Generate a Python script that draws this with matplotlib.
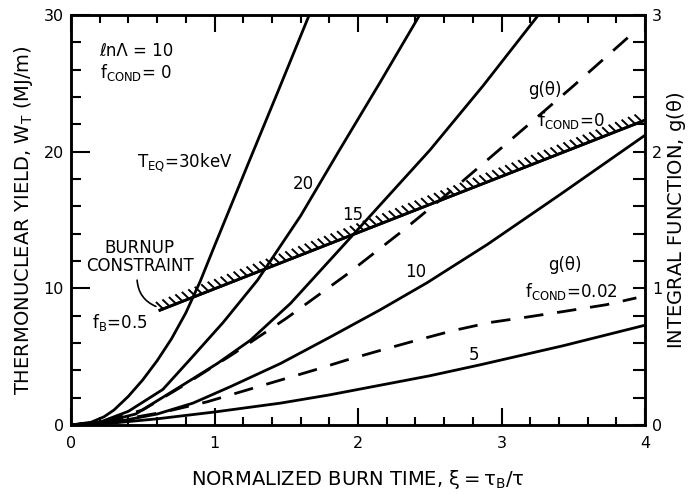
import matplotlib
matplotlib.use("Agg")
import matplotlib.pyplot as plt
import matplotlib.patheffects as pe
from matplotlib.ticker import MultipleLocator

plt.rcParams['font.family'] = ['DejaVu Sans']
plt.rcParams['mathtext.default'] = 'regular'
plt.rcParams['lines.scale_dashes'] = False

# thermonuclear yield W_T (MJ/m) vs normalized burn time xi, for each T_EQ
xi_30 = [0, 0.14, 0.23, 0.3, 0.4, 0.5, 0.6, 0.7, 0.8, 0.9, 1.0, 1.23, 1.45, 1.66]
w_30 = [0, 0.2, 0.6, 1.1, 2.1, 3.3, 4.7, 6.3, 8.2, 10.5, 13.1, 19.0, 24.6, 30.0]

xi_20 = [0, 0.2, 0.4, 0.64, 0.83, 1.06, 1.30, 1.60, 1.87, 2.15, 2.43]
w_20 = [0, 0.2, 1.0, 2.6, 4.8, 7.5, 10.6, 15.3, 20.1, 25.0, 30.0]

xi_15 = [0, 0.2, 0.45, 0.76, 1.02, 1.25, 1.53, 1.99, 2.50, 2.87, 3.25]
w_15 = [0, 0.15, 0.8, 2.8, 4.5, 6.2, 8.9, 14.2, 20.1, 24.8, 29.9]

xi_10 = [0, 0.3, 0.6, 0.85, 1.11, 1.46, 1.80, 2.15, 2.48, 2.9, 3.4, 4.0]
w_10 = [0, 0.2, 0.8, 1.6, 2.8, 4.5, 6.4, 8.4, 10.4, 13.2, 16.8, 21.2]

xi_5 = [0, 0.3, 0.6, 1.0, 1.46, 1.80, 2.15, 2.5, 2.85, 3.43, 4.0]
w_5 = [0, 0.15, 0.45, 0.95, 1.6, 2.2, 2.9, 3.6, 4.4, 5.8, 7.3]

# integral function g(theta), right axis
xi_g0 = [0, 0.2, 0.5, 0.77, 1.13, 1.5, 1.92, 2.31, 2.68, 3.08, 3.5, 3.94]
g_0 = [0, 0.02, 0.11, 0.28, 0.52, 0.78, 1.10, 1.42, 1.74, 2.10, 2.48, 2.89]

xi_g02 = [0, 0.3, 0.65, 0.95, 1.4, 1.69, 1.92, 2.17, 2.41, 2.66, 2.92, 3.18, 3.43, 3.73, 3.94]
g_02 = [0, 0.03, 0.095, 0.17, 0.31, 0.40, 0.475, 0.55, 0.62, 0.69, 0.75, 0.79, 0.83, 0.88, 0.93]

# burnup constraint (f_B = 0.5)
xi_burn = [0.62, 4.0]
w_burn = [8.4, 22.3]

fig = plt.figure(figsize=(6.92, 4.94), dpi=100)
ax = fig.add_axes([0.1026, 0.1397, 0.8295, 0.830])
ax2 = ax.twinx()

lw = 2.0
for xs, ys in [(xi_30, w_30), (xi_20, w_20), (xi_15, w_15), (xi_10, w_10), (xi_5, w_5)]:
    ax.plot(xs, ys, color="black", linewidth=lw, solid_capstyle="round", solid_joinstyle="round")

ax.plot(xi_burn, w_burn, color="black", linewidth=lw,
        path_effects=[pe.Normal(),
                      pe.withTickedStroke(angle=115, spacing=5, length=1.3, linewidth=1.4)])

ax2.plot(xi_g0, g_0, color="black", linewidth=lw, linestyle=(0, (14, 10)))
ax2.plot(xi_g02, g_02, color="black", linewidth=lw, linestyle=(0, (14, 10)))

ax.set_xlim(0, 4)
ax.set_ylim(0, 30)
ax2.set_ylim(0, 3)

ax.xaxis.set_major_locator(MultipleLocator(1))
ax.xaxis.set_minor_locator(MultipleLocator(0.2))
ax.yaxis.set_major_locator(MultipleLocator(10))
ax.yaxis.set_minor_locator(MultipleLocator(2))
ax2.yaxis.set_major_locator(MultipleLocator(1))
ax2.yaxis.set_minor_locator(MultipleLocator(0.2))

ax.tick_params(axis="x", which="both", direction="in", top=True, width=1.5, labelsize=11.5, pad=8)
ax.tick_params(axis="x", which="major", length=12)
ax.tick_params(axis="x", which="minor", length=6)
ax.tick_params(axis="y", which="both", direction="in", width=1.5, labelsize=11.5, pad=5)
ax.tick_params(axis="y", which="major", length=14)
ax.tick_params(axis="y", which="minor", length=7)
ax2.tick_params(axis="y", which="both", direction="in", width=1.5, length=9, labelsize=11.5, pad=5)

for a in (ax, ax2):
    for s in a.spines.values():
        s.set_linewidth(1.8)

ax.set_xlabel(r"NORMALIZED BURN TIME, $\xi = \tau_B/\tau$", fontsize=14, labelpad=12)
ax.set_ylabel(r"THERMONUCLEAR YIELD, $W_T$ (MJ/m)", fontsize=14, labelpad=6)
ax2.set_ylabel(r"INTEGRAL FUNCTION, g($\theta$)", fontsize=14, labelpad=2)

fs = 12
ax.text(0.20, 27.4, "ℓnΛ = 10", fontsize=fs, ha="left", va="center")
ax.text(0.20, 25.8, r"f$_{COND}$= 0", fontsize=fs, ha="left", va="center")
ax.text(0.46, 19.2, r"T$_{EQ}$=30keV", fontsize=fs, ha="left", va="center")
ax.text(1.62, 17.6, "20", fontsize=fs, ha="center", va="center")
ax.text(1.965, 15.4, "15", fontsize=fs, ha="center", va="center")
ax.text(2.40, 11.2, "10", fontsize=fs, ha="center", va="center")
ax.text(2.81, 5.1, "5", fontsize=fs, ha="center", va="center")
ax.text(3.30, 24.5, "g(θ)", fontsize=fs, ha="center", va="center")
ax.text(3.49, 22.3, r"f$_{COND}$=0", fontsize=fs, ha="center", va="center")
ax.text(3.44, 11.7, "g(θ)", fontsize=fs, ha="center", va="center")
ax.text(3.49, 9.8, r"f$_{COND}$=0.02", fontsize=fs, ha="center", va="center")
ax.text(0.34, 7.5, r"f$_B$=0.5", fontsize=fs, ha="center", va="center")
ax.text(0.48, 12.3, "BURNUP\nCONSTRAINT", fontsize=fs, ha="center", va="center", linespacing=1.0)
ax.annotate("", xy=(0.61, 8.6), xytext=(0.46, 10.8),
            arrowprops=dict(arrowstyle="-", color="black", linewidth=1.2,
                            connectionstyle="arc3,rad=0.35"))

fig.savefig("out.png", dpi=100)
